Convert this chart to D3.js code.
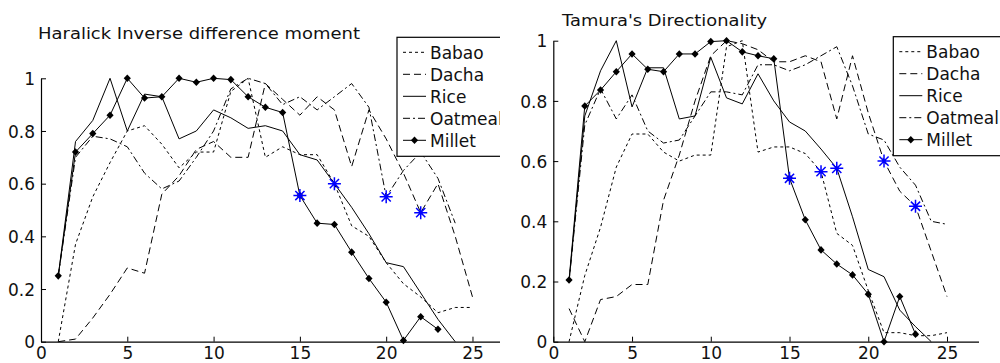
<!DOCTYPE html>
<html>
<head>
<meta charset="utf-8">
<script src="https://cdn.jsdelivr.net/npm/d3@7"></script>
<style>
  html, body { margin: 0; padding: 0; background: #fff; }
  svg { display: block; font-family: "DejaVu Sans", Verdana, sans-serif; }
</style>
</head>
<body>
<svg id="chart" width="1000" height="363"></svg>
<script>
// ---- data (x = 1, 2, 3 ... for every series) ----
const seriesNames = ["Babao", "Dacha", "Rice", "Oatmeal", "Millet"];
const xTicks = [0, 5, 10, 15, 20, 25];
const yTicks = [0, 0.2, 0.4, 0.6, 0.8, 1];
const yTickLabels = ["0", "0.2", "0.4", "0.6", "0.8", "1"];

// Haralick Inverse difference moment
const babaoIDM   = [0.00, 0.37, 0.55, 0.68, 0.80, 0.82, 0.75, 0.66, 0.72, 0.72, 0.95, 1.00, 0.70, 0.74, 0.71, 0.71, 0.60, 0.44, 0.40, 0.30, 0.22, 0.17, 0.11, 0.13, 0.13];
const dachaIDM   = [0.00, 0.01, 0.09, 0.18, 0.28, 0.26, 0.56, 0.63, 0.73, 0.76, 0.70, 0.70, 0.98, 0.92, 0.86, 0.93, 0.88, 0.665, 0.88, 0.77, 0.64, 0.49, 0.60, 0.40, 0.17];
const riceIDM    = [0.25, 0.76, 0.84, 1.00, 0.80, 0.94, 0.93, 0.77, 0.80, 0.88, 0.85, 0.81, 0.82, 0.80, 0.71, 0.69, 0.60, 0.51, 0.41, 0.30, 0.285, 0.185, 0.085, 0.00];
const oatmealIDM = [0.25, 0.70, 0.78, 0.77, 0.74, 0.64, 0.58, 0.61, 0.70, 0.80, 0.96, 1.00, 0.98, 0.90, 0.93, 0.88, 0.93, 0.98, 0.89, 0.55, 0.65, 0.72, 0.62, 0.45];
const milletIDM  = [0.25, 0.72, 0.79, 0.86, 1.00, 0.925, 0.93, 1.00, 0.985, 1.00, 0.995, 0.93, 0.89, 0.87, 0.555, 0.45, 0.445, 0.34, 0.24, 0.15, 0.005, 0.095, 0.047];
const starXIDM = [15, 17, 20, 22];
const starYIDM = [0.555, 0.60, 0.55, 0.49];

// Tamura's Directionality
const babaoDir   = [0.00, 0.22, 0.38, 0.58, 0.69, 0.69, 0.63, 0.60, 0.62, 0.62, 0.98, 1.00, 0.63, 0.647, 0.647, 0.625, 0.565, 0.36, 0.32, 0.17, 0.03, 0.03, 0.02, 0.02, 0.03];
const dachaDir   = [0.11, 0.00, 0.14, 0.15, 0.19, 0.19, 0.47, 0.62, 0.80, 0.95, 1.00, 0.99, 0.97, 0.93, 0.93, 0.95, 0.93, 0.74, 0.95, 0.76, 0.60, 0.50, 0.45, 0.30, 0.15];
const riceDir    = [0.20, 0.75, 0.90, 1.00, 0.78, 0.91, 0.91, 0.74, 0.75, 0.945, 0.81, 0.79, 0.89, 0.80, 0.73, 0.70, 0.64, 0.576, 0.415, 0.24, 0.216, 0.105, 0.05, 0.00];
const oatmealDir = [0.20, 0.72, 0.84, 0.74, 0.82, 0.70, 0.66, 0.67, 0.75, 0.83, 0.83, 0.82, 0.92, 0.92, 0.90, 0.92, 0.95, 0.98, 0.85, 0.69, 0.67, 0.58, 0.52, 0.40, 0.39];
const milletDir  = [0.205, 0.783, 0.836, 0.897, 0.956, 0.905, 0.897, 0.956, 0.956, 0.997, 1.00, 0.963, 0.95, 0.94, 0.543, 0.405, 0.305, 0.258, 0.222, 0.158, 0.00, 0.15, 0.025];
const starXDir = [15, 17, 18, 21, 23];
const starYDir = [0.543, 0.565, 0.576, 0.60, 0.45];

// ---- styles ----
const dash = { Babao: "3,3", Dacha: "7,4", Rice: null, Oatmeal: "7,3,2,3", Millet: null };

const svg = d3.select("#chart");

const panels = [
  { ox: 0, left: 41, right: 507, top: 78.3, bottom: 341.7,
    title: "Haralick Inverse difference moment", tx: 38, ty: 39, tw: 322,
    lx: 397, ly: 37.3,
    series: [babaoIDM, dachaIDM, riceIDM, oatmealIDM, milletIDM],
    starX: starXIDM, starY: starYIDM },
  { ox: 500, left: 53.3, right: 478.5, top: 40.7, bottom: 341.7,
    title: "Tamura's Directionality", tx: 62, ty: 26, tw: 205,
    lx: 393.3, ly: 36.7,
    series: [babaoDir, dachaDir, riceDir, oatmealDir, milletDir],
    starX: starXDir, starY: starYDir }
];

function starPath(cx, cy) {
  const r = 6.5, d = 4.6;
  return `M${cx - r},${cy}H${cx + r}M${cx},${cy - r}V${cy + r}` +
         `M${cx - d},${cy - d}L${cx + d},${cy + d}M${cx - d},${cy + d}L${cx + d},${cy - d}`;
}
const diamond = "M0,-3.8L3.6,0L0,3.8L-3.6,0Z";

panels.forEach((p, pi) => {
  svg.append("clipPath").attr("id", "clip" + pi)
    .append("rect").attr("x", 0).attr("y", 0).attr("width", 500).attr("height", 363);

  const g = svg.append("g")
    .attr("transform", `translate(${p.ox},0)`)
    .attr("clip-path", `url(#clip${pi})`);

  const x = d3.scaleLinear().domain([0, 27]).range([p.left, p.right]);
  const y = d3.scaleLinear().domain([0, 1]).range([p.bottom, p.top]);

  // axes, MATLAB style: ticks pointing inward, no box
  const gx = g.append("g")
    .attr("transform", `translate(0,${p.bottom})`)
    .call(d3.axisBottom(x).tickValues(xTicks).tickSizeInner(-5).tickSizeOuter(0).tickPadding(4));
  const gy = g.append("g")
    .attr("transform", `translate(${p.left},0)`)
    .call(d3.axisLeft(y).tickValues(yTicks).tickFormat((d, i) => yTickLabels[i])
      .tickSizeInner(-5).tickSizeOuter(0).tickPadding(6));
  [gx, gy].forEach(a => {
    a.selectAll("path.domain").attr("stroke", "#000").attr("stroke-width", 1.2);
    a.selectAll(".tick line").attr("stroke", "#000");
    a.selectAll("text").attr("fill", "#111").style("font-size", "17px")
      .style("font-family", "'DejaVu Sans', Verdana, sans-serif");
  });
  gy.selectAll("text").attr("dy", "0.36em");
  gx.selectAll("text").attr("dy", "0.76em");

  // series lines
  const line = d3.line().x((d, i) => x(i + 1)).y(d => y(d));
  p.series.forEach((vals, si) => {
    const name = seriesNames[si];
    g.append("path")
      .datum(vals)
      .attr("fill", "none")
      .attr("stroke", "#000")
      .attr("stroke-width", 1)
      .attr("stroke-dasharray", dash[name])
      .attr("d", line);
  });

  // millet diamonds
  g.append("g").selectAll("path")
    .data(p.series[4])
    .join("path")
    .attr("transform", (d, i) => `translate(${x(i + 1)},${y(d)})`)
    .attr("d", diamond)
    .attr("fill", "#000");

  // blue stars
  g.append("g").selectAll("path")
    .data(p.starX)
    .join("path")
    .attr("d", (d, i) => starPath(x(d), y(p.starY[i])))
    .attr("stroke", "#0000ff")
    .attr("stroke-width", 1.5)
    .attr("fill", "none");

  // title
  g.append("text")
    .attr("x", p.tx).attr("y", p.ty)
    .attr("textLength", p.tw).attr("lengthAdjust", "spacingAndGlyphs")
    .style("font-size", "16.5px")
    .attr("fill", "#111")
    .text(p.title);

  // legend
  const lg = g.append("g").attr("transform", `translate(${p.lx},${p.ly})`);
  lg.append("rect")
    .attr("x", 0).attr("y", 0).attr("width", 130).attr("height", 119)
    .attr("fill", "#fff").attr("stroke", "#000").attr("stroke-width", 1.2);
  seriesNames.forEach((name, i) => {
    const cy = 15 + i * 22;
    lg.append("line")
      .attr("x1", 6).attr("x2", 29).attr("y1", cy).attr("y2", cy)
      .attr("stroke", "#000").attr("stroke-width", 1)
      .attr("stroke-dasharray", dash[name]);
    if (name === "Millet") {
      lg.append("path").attr("transform", `translate(17.5,${cy})`)
        .attr("d", diamond).attr("fill", "#000");
    }
    lg.append("text")
      .attr("x", 33).attr("y", cy + 6.5)
      .style("font-size", "17px")
      .attr("fill", "#111")
      .text(name);
  });
});
</script>
</body>
</html>
